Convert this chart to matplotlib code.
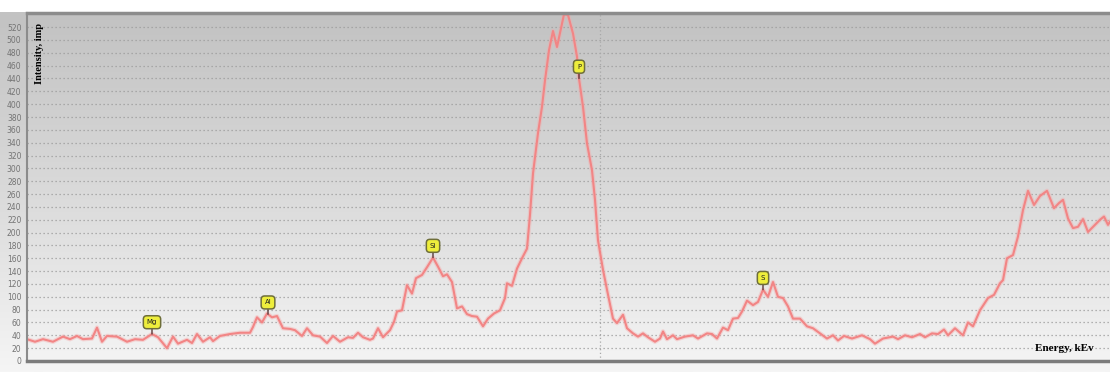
import matplotlib.pyplot as plt
import numpy as np
from matplotlib.colors import LinearSegmentedColormap

# spectrum: detector channel vs counts
channel = [0, 8, 16, 26, 36, 43, 50, 56, 65, 70, 75, 80, 90, 100, 108, 116, 125, 131, 140, 146,
           151, 160, 165, 170, 176, 183, 186, 193, 203, 213, 223, 226, 230, 235, 240, 245, 250, 256, 263, 268,
           275, 280, 286, 293, 300, 306, 313, 321, 326, 331, 336, 343, 346, 351, 356, 363, 367, 370, 375, 380,
           385, 389, 395, 400, 406, 411, 416, 420, 425, 430, 435, 440, 445, 450, 456, 461, 467, 473, 478, 480,
           485, 490, 495, 500, 503, 506, 511, 515, 518, 522, 526, 530, 535, 537, 541, 546, 550, 552, 556, 560,
           565, 568, 571, 576, 580, 586, 590, 596, 600, 606, 611, 616, 621, 628, 633, 636, 640, 646, 650, 658,
           666, 671, 680, 685, 690, 696, 701, 706, 711, 715, 720, 726, 731, 736, 741, 746, 751, 756, 761, 766,
           773, 780, 786, 793, 800, 806, 811, 817, 825, 835, 843, 848, 856, 866, 871, 878, 885, 893, 898, 905,
           911, 917, 921, 928, 936, 941, 946, 953, 961, 967, 973, 976, 980, 986, 991, 996, 1001, 1007, 1013, 1020,
           1027, 1032, 1036, 1041, 1046, 1051, 1056, 1061, 1068, 1073, 1077, 1081, 1083]
intensity = [34, 30, 34, 30, 38, 34, 39, 34, 35, 52, 30, 39, 38, 30, 34, 33, 42, 37, 20, 38,
             27, 33, 28, 42, 30, 37, 31, 39, 42, 44, 44, 53, 68, 60, 74, 68, 70, 51, 50, 48,
             39, 51, 40, 38, 28, 39, 30, 37, 36, 44, 37, 33, 35, 51, 37, 48, 61, 77, 79, 118,
             105, 129, 134, 146, 161, 147, 132, 135, 123, 82, 85, 73, 70, 69, 54, 66, 74, 79, 98, 121,
             117, 144, 160, 175, 228, 292, 355, 396, 437, 484, 514, 489, 526, 540, 539, 510, 474, 440, 396, 339,
             297, 251, 188, 142, 111, 66, 59, 72, 51, 43, 38, 43, 37, 30, 35, 46, 34, 40, 34, 38,
             40, 35, 43, 42, 35, 52, 48, 66, 67, 77, 94, 87, 92, 111, 100, 123, 100, 98, 85, 66,
             66, 54, 51, 43, 35, 40, 32, 39, 35, 40, 34, 27, 35, 38, 34, 40, 37, 42, 37, 43,
             42, 49, 40, 51, 40, 60, 54, 79, 98, 103, 121, 126, 160, 165, 194, 235, 265, 243, 257, 265,
             238, 246, 251, 222, 207, 209, 221, 201, 212, 220, 225, 212, 217]

peak_names = ['Mg', 'Al', 'Si', 'P', 'S']
peak_channels = [125, 241, 406, 552, 736]

y_ticks = list(range(0, 540, 20))

fig = plt.figure(figsize=(11.1, 3.72), dpi=100)
fig.patch.set_facecolor('white')

# grey panel behind the plot, darker at the top
bg = fig.add_axes([0, 0, 1, 1 - 12 / 372], zorder=0)
panel_cmap = LinearSegmentedColormap.from_list('panel', ['#c2c2c2', '#dadada', '#f5f5f5'])
bg.imshow(np.linspace(0, 1, 256)[:, None], aspect='auto', cmap=panel_cmap, extent=[0, 1, 0, 1])
bg.axis('off')

ax = fig.add_axes([27 / 1110, 11 / 372, 1 - 27 / 1110, 348 / 372], zorder=1)
ax.patch.set_alpha(0)
ax.set_xlim(0, 1083)
ax.set_ylim(0, 542)

ax.set_yticks(y_ticks)
ax.set_xticks([])
ax.tick_params(axis='y', length=0, pad=4, labelsize=5.5, labelcolor='#737373')
ax.grid(axis='y', color='#9c9c9c', linestyle=(0, (1.0, 2.2)), linewidth=0.9)
ax.axvline(573, color='#a8a8a8', linestyle=(0, (1, 2)), linewidth=0.9)

ax.spines['right'].set_visible(False)
ax.spines['top'].set_color('#8c8c8c')
ax.spines['top'].set_linewidth(2.5)
ax.spines['left'].set_color('#8c8c8c')
ax.spines['left'].set_linewidth(1.5)
ax.spines['bottom'].set_color('#7c7c7c')
ax.spines['bottom'].set_linewidth(2.5)

# soft halo under the trace
ax.plot(channel, intensity, color='#f6a8a8', lw=3.2, alpha=0.4, solid_joinstyle='round')
ax.plot(channel, intensity, color='#f28585', lw=1.5, solid_joinstyle='round')

for name, ch in zip(peak_names, peak_channels):
    val = np.interp(ch, channel, intensity)
    ax.annotate(name, xy=(ch, val), xytext=(0, 8.5), textcoords='offset points',
                ha='center', va='center', fontsize=5, color='#202020',
                bbox=dict(boxstyle='round,pad=0.5', fc='#eeee3c', ec='#6e6e3a', lw=1.1),
                arrowprops=dict(arrowstyle='-', color='#5a3a3a', lw=1.0, shrinkA=0, shrinkB=0))

ax.text(0.0075, 0.971, 'Intensity, imp', transform=ax.transAxes, rotation=90,
        ha='left', va='top', family='Liberation Serif', weight='bold', size=7.5)
ax.text(0.985, 0.037, 'Energy, kEv', transform=ax.transAxes,
        ha='right', va='center', family='Liberation Serif', weight='bold', size=8)

fig.savefig('out.png', dpi=100)
